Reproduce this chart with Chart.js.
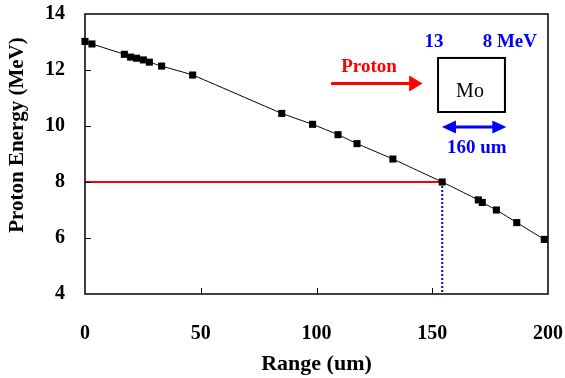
<!DOCTYPE html>
<html>
<head>
<meta charset="utf-8">
<script src="https://cdn.jsdelivr.net/npm/chart.js@4"></script>
<style>
  html, body { margin: 0; padding: 0; background: #fff; }
  #wrap { width: 565px; height: 378px; }
</style>
</head>
<body>
<div id="wrap"><canvas id="myChart"></canvas></div>
<script>
// measured range-energy points
const range = [0, 3, 17, 19.7, 22.3, 25.2, 27.8, 33.1, 46.5, 85, 98.3, 109.3, 117.5, 133, 154.3, 169.9, 171.6, 177.7, 186.5, 198.4];
const energy = [13.02, 12.93, 12.56, 12.46, 12.42, 12.36, 12.28, 12.14, 11.82, 10.45, 10.06, 9.69, 9.37, 8.82, 8.0, 7.36, 7.27, 7.0, 6.55, 5.95];

// 8 MeV marker
const cutRange = 154.3;
const cutEnergy = 8;

const xTicks = [0, 50, 100, 150, 200];
const yTicks = [4, 6, 8, 10, 12, 14];

const FONT = "'Liberation Serif', 'Times New Roman', serif";

const points = range.map((r, i) => ({ x: r, y: energy[i] }));

// extra drawing: frame, inner ticks, y title and the target sketch
const extras = {
  id: "extras",
  afterDraw(chart) {
    const { ctx, chartArea: a, scales } = chart;
    const sx = scales.x, sy = scales.y;
    const px = (v) => sx.getPixelForValue(v);
    const py = (v) => sy.getPixelForValue(v);

    ctx.save();
    ctx.strokeStyle = "#000";
    ctx.lineWidth = 1.5;
    ctx.strokeRect(a.left, a.top, a.right - a.left, a.bottom - a.top);

    ctx.lineWidth = 1;
    ctx.beginPath();
    xTicks.slice(1, -1).forEach((t) => {
      ctx.moveTo(Math.round(px(t)) + 0.5, a.bottom);
      ctx.lineTo(Math.round(px(t)) + 0.5, a.bottom - 6);
    });
    yTicks.slice(1, -1).forEach((t) => {
      ctx.moveTo(a.left, Math.round(py(t)) + 0.5);
      ctx.lineTo(a.left + 6, Math.round(py(t)) + 0.5);
    });
    ctx.stroke();

    // y title, sits a bit above centre like the original
    ctx.save();
    ctx.translate(18, 135);
    ctx.rotate(-Math.PI / 2);
    ctx.font = "bold 21px " + FONT;
    ctx.fillStyle = "#000";
    ctx.textAlign = "center";
    ctx.textBaseline = "middle";
    ctx.fillText("Proton Energy (MeV)", 0, 0);
    ctx.restore();

    // red proton arrow
    ctx.strokeStyle = "#ff0000";
    ctx.fillStyle = "#ff0000";
    ctx.lineWidth = 3;
    const ay = py(11.52);
    ctx.beginPath();
    ctx.moveTo(px(106.3), ay);
    ctx.lineTo(px(141), ay);
    ctx.stroke();
    ctx.beginPath();
    ctx.moveTo(px(145.8), ay);
    ctx.lineTo(px(140), ay - 8);
    ctx.lineTo(px(140), ay + 8);
    ctx.closePath();
    ctx.fill();

    ctx.font = "bold 19px " + FONT;
    ctx.textAlign = "center";
    ctx.textBaseline = "middle";
    ctx.fillText("Proton", px(122.7), py(12.1));

    // Mo target box
    ctx.strokeStyle = "#000";
    ctx.lineWidth = 2;
    ctx.strokeRect(px(152.5), py(12.43), px(181.4) - px(152.5), py(10.5) - py(12.43));
    ctx.fillStyle = "#000";
    ctx.font = "20px " + FONT;
    ctx.fillText("Mo", px(166.3), py(11.22));

    // blue labels and thickness arrow
    ctx.fillStyle = "#0000ff";
    ctx.strokeStyle = "#0000ff";
    ctx.font = "bold 19px " + FONT;
    ctx.fillText("13", px(150.8), py(12.98));
    ctx.fillText("8 MeV", px(183.5), py(12.98));
    ctx.fillText("160 um", px(169.2), py(9.2));

    const by = py(9.96);
    const bl = px(154.2), br = px(182);
    ctx.lineWidth = 3;
    ctx.beginPath();
    ctx.moveTo(bl + 10, by);
    ctx.lineTo(br - 10, by);
    ctx.stroke();
    ctx.beginPath();
    ctx.moveTo(bl, by);
    ctx.lineTo(bl + 14, by - 6.5);
    ctx.lineTo(bl + 14, by + 6.5);
    ctx.closePath();
    ctx.moveTo(br, by);
    ctx.lineTo(br - 14, by - 6.5);
    ctx.lineTo(br - 14, by + 6.5);
    ctx.closePath();
    ctx.fill();
    ctx.restore();
  },
};

new Chart(document.getElementById("myChart"), {
  type: "line",
  data: {
    datasets: [
      {
        data: points,
        borderColor: "#000",
        borderWidth: 1,
        backgroundColor: "#000",
        pointStyle: "rect",
        pointRadius: 5,
        pointBorderWidth: 0,
        tension: 0.1,
        clip: false,
      },
      {
        data: [{ x: 0, y: cutEnergy }, { x: cutRange, y: cutEnergy }],
        borderColor: "#ff0000",
        borderWidth: 2,
        pointRadius: 0,
      },
      {
        data: [{ x: cutRange, y: cutEnergy }, { x: cutRange, y: 4 }],
        borderColor: "#0000ff",
        borderWidth: 2,
        borderDash: [2, 2],
        pointRadius: 0,
      },
    ],
  },
  options: {
    responsive: true,
    maintainAspectRatio: false,
    animation: false,
    layout: { padding: { left: 0, right: 17, top: 14, bottom: 0 } },
    plugins: {
      legend: { display: false },
      tooltip: { enabled: false },
    },
    scales: {
      x: {
        type: "linear",
        min: 0,
        max: 200,
        afterBuildTicks: (s) => { s.ticks = xTicks.map((v) => ({ value: v })); },
        afterFit: (s) => { s.height = 84; },
        // hidden tick marks are used only as label offset
        grid: { display: false, drawTicks: true, tickLength: 28 },
        border: { display: false },
        ticks: {
          padding: 0,
          maxRotation: 0,
          color: "#000",
          font: { family: FONT, size: 20, weight: "bold" },
        },
        title: {
          display: true,
          text: "Range (um)",
          color: "#000",
          padding: { top: 0, bottom: 0 },
          font: { family: FONT, size: 22, weight: "bold" },
        },
      },
      y: {
        min: 4,
        max: 14,
        afterBuildTicks: (s) => { s.ticks = yTicks.map((v) => ({ value: v })); },
        afterFit: (s) => { s.width = 85; },
        grid: { display: false, drawTicks: true, tickLength: 20 },
        border: { display: false },
        ticks: {
          padding: 0,
          color: "#000",
          font: { family: FONT, size: 20, weight: "bold" },
        },
      },
    },
  },
  plugins: [extras],
});
</script>
</body>
</html>
